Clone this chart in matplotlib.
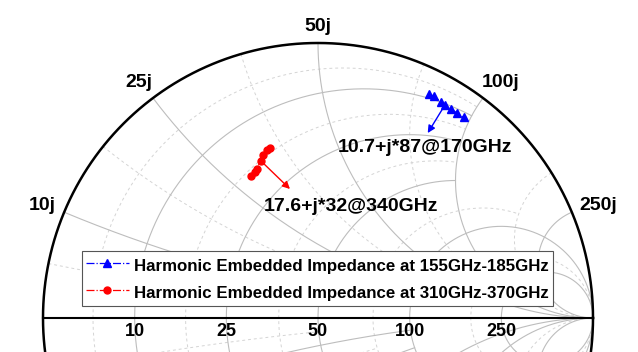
import numpy as np
import matplotlib
matplotlib.use('Agg')
import matplotlib.pyplot as plt

plt.rcParams['font.family'] = ['Liberation Sans', 'DejaVu Sans']
plt.rcParams['font.weight'] = 'bold'

# ---------------- data (impedances in Ohm) ----------------
Z0 = 50.0
blue_R = [8.5, 8.8, 9.9, 10.7, 11.2, 11.8, 12.5]
blue_X = [79.9, 81.9, 85.2, 87.0, 90.0, 93.2, 96.8]
red_R = [16.7, 16.7, 17.0, 17.6, 18.4, 18.5, 18.6]
red_X = [35.1, 34.3, 33.2, 32.0, 30.2, 29.6, 28.5]
blue_label = 'Harmonic Embedded Impedance at 155GHz-185GHz'
red_label = 'Harmonic Embedded Impedance at 310GHz-370GHz'
blue_note = '10.7+j*87@170GHz'
red_note = '17.6+j*32@340GHz'
note_index = 3
major_vals = [0.2, 0.5, 1, 2, 5]
minor_vals = [0.1, 0.35, 0.75, 1.5, 3.5]
real_tick_labels = ['10', '25', '50', '100', '250']
imag_tick_labels = ['10j', '25j', '50j', '100j', '250j']

INF = 1e6
PX = 0.72  # points per pixel at 100 dpi


def gamma(z):
    z = np.asarray(z, dtype=complex)
    return (z - Z0) / (z + Z0)


def gn(z):
    return (z - 1) / (z + 1)


fig = plt.figure(figsize=(6.38, 3.52), dpi=100)
ax = fig.add_axes([0, 0, 1, 1])
S = 275.0
ax.set_xlim(-318 / S, 320 / S)
ax.set_ylim(-34 / S, 318 / S)
ax.axis('off')


def limit(v, v_next, others, thr, real=True):
    """largest value of the other family up to which line v is drawn"""
    last = None
    for o in others:
        if real:
            d = abs(gn(v + 1j * o) - gn(v_next + 1j * o))
        else:
            d = abs(gn(o + 1j * v) - gn(o + 1j * v_next))
        if d < thr:
            return last if last is not None else o
        last = o
    return INF


def draw_r(r, xmax, **kw):
    th = np.arctan(xmax)
    xs = np.tan(np.linspace(-th, th, 800))
    g = gn(r + 1j * xs)
    ax.plot(g.real, g.imag, **kw)


def draw_x(x, rmax, **kw):
    th = np.arctan(rmax)
    rs = np.tan(np.linspace(0, th, 600))
    for sgn in (1, -1):
        g = gn(rs + 1j * sgn * x)
        ax.plot(g.real, g.imag, **kw)


minor_kw = dict(color='#d4d4d4', lw=0.7, ls=(0, (3, 3)), zorder=1)
major_kw = dict(color='#bdbdbd', lw=0.8, ls='-', zorder=2)

maj = sorted(major_vals)
allv = sorted(major_vals + minor_vals)
for i, v in enumerate(maj):
    nxt = maj[i + 1] if i + 1 < len(maj) else INF
    draw_r(v, limit(v, nxt, maj, 0.1, True), **major_kw)
    draw_x(v, limit(v, nxt, maj, 0.05, False), **major_kw)
for v in minor_vals:
    j = allv.index(v)
    nxt = allv[j + 1] if j + 1 < len(allv) else INF
    draw_r(v, limit(v, nxt, allv, 0.035, True), **minor_kw)
    draw_x(v, limit(v, nxt, allv, 0.035, False), **minor_kw)

# outer circle & real axis
t = np.linspace(0, 2 * np.pi, 721)
ax.plot(np.cos(t), np.sin(t), color='black', lw=1.8, zorder=3)
ax.plot([-1, 1], [0, 0], color='black', lw=1.5, zorder=3)

# tick labels
for v, lab in zip(major_vals, real_tick_labels):
    g = gamma(Z0 * v)
    ax.annotate(lab, xy=(g.real, 0), xytext=(0, -10), textcoords='offset points',
                ha='center', va='center', fontsize=13, fontweight='bold')
for v, lab in zip(major_vals, imag_tick_labels):
    g = complex(gamma(1j * Z0 * v))
    if abs(g.real) > 0.8:
        ha = 'right' if g.real < 0 else 'left'
        va = 'center'
        off = (np.sign(g.real) * 8 * PX, 7 * PX)
    elif abs(g.real) > 0.3:
        ha = 'right' if g.real < 0 else 'left'
        va = 'bottom'
        off = (-1 * PX, 7 * PX)
    else:
        ha, va = 'center', 'bottom'
        off = (0, 8 * PX)
    ax.annotate(lab, xy=(g.real, g.imag), xytext=off, textcoords='offset points',
                ha=ha, va=va, fontsize=14, fontweight='bold')

# data
gb = gamma(np.array(blue_R) + 1j * np.array(blue_X))
gr = gamma(np.array(red_R) + 1j * np.array(red_X))
ax.plot(gb.real, gb.imag, color='blue', ls='-.', lw=0.9, marker='^', ms=5.5,
        label=blue_label, zorder=5)
ax.plot(gr.real, gr.imag, color='red', ls='-.', lw=0.9, marker='o', ms=5,
        label=red_label, zorder=5)

# annotations
pb = gb[note_index]
pr = gr[note_index]
ax.annotate('', xy=(pb.real, pb.imag), xytext=(-12.2, -19.9), textcoords='offset points',
            arrowprops=dict(arrowstyle='<|-', color='blue', lw=1, shrinkA=0, shrinkB=0,
                            mutation_scale=11), zorder=6)
ax.annotate(blue_note, xy=(pb.real, pb.imag), xytext=(-14.4, -30.6), textcoords='offset points',
            ha='center', va='center', fontsize=14, fontweight='bold', zorder=6)
ax.annotate('', xy=(pr.real, pr.imag), xytext=(21.1, -20.4), textcoords='offset points',
            arrowprops=dict(arrowstyle='<|-', color='red', lw=1, shrinkA=0, shrinkB=0,
                            mutation_scale=11), zorder=6)
ax.annotate(red_note, xy=(pr.real, pr.imag), xytext=(65, -33.3), textcoords='offset points',
            ha='center', va='center', fontsize=14, fontweight='bold', zorder=6)

leg = ax.legend(loc='upper left', bbox_to_anchor=(82 / 638, 1 - 251 / 352), borderaxespad=0,
                fancybox=False, framealpha=1, edgecolor='#555555',
                prop={'weight': 'bold', 'size': 12.2}, handlelength=2.5, handletextpad=0.3,
                handleheight=1.4, borderpad=0.25, labelspacing=0.45)
leg.get_frame().set_linewidth(0.8)
leg.set_zorder(10)

fig.savefig('out.png', dpi=100)
